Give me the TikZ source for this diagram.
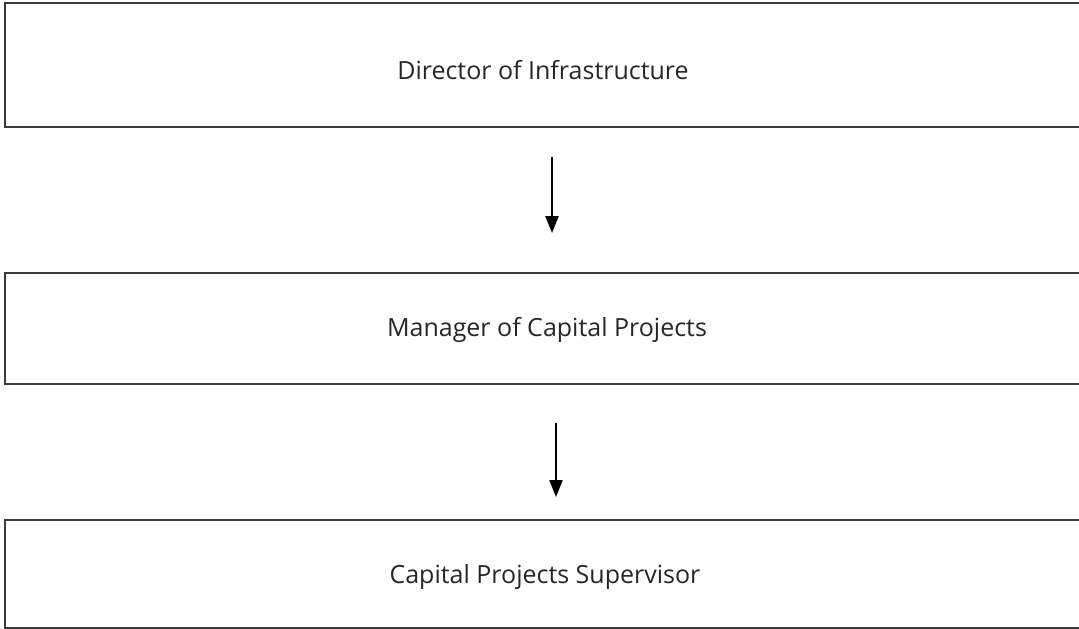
\documentclass[tikz,border=0pt]{standalone}
\usepackage{fontspec}
\setmainfont{Open Sans}
\usetikzlibrary{arrows.meta}
\definecolor{boxline}{HTML}{3A3A3A}
\definecolor{txt}{HTML}{262626}
\begin{document}
\begin{tikzpicture}[x=1pt,y=-1pt,
  orgbox/.style={draw=boxline, line width=2pt, minimum width=1080pt, inner sep=0pt,
    text=txt, font=\fontsize{25}{30}\selectfont},
  arr/.style={line width=2.2pt, black, -{Triangle[width=13pt,length=17pt]}}]
\useasboundingbox (0,0) rectangle (1079,629);
\clip (0,0) rectangle (1079,629);
\node[orgbox, minimum height=124pt] (a) at (545,65) {};
\node[txt, font=\fontsize{25}{30}\selectfont] (at) at (543,70) {Director of Infrastructure};
\node[orgbox, minimum height=111pt] (b) at (545,328.5) {};
\node[txt, font=\fontsize{25}{30}\selectfont] (bt) at (547,330) {Manager of Capital Projects};
\node[orgbox, minimum height=108pt] (c) at (545,574) {};
\node[txt, font=\fontsize{25}{30}\selectfont] (ct) at (545,577) {Capital Projects Supervisor};
\coordinate (x1) at (552,0);
\coordinate (x2) at (556,0);
\draw[arr, shorten <=29pt, shorten >=39pt] (a.south -| x1) -- (b.north -| x1);
\draw[arr, shorten <=38pt, shorten >=22pt] (b.south -| x2) -- (c.north -| x2);
\end{tikzpicture}
\end{document}
